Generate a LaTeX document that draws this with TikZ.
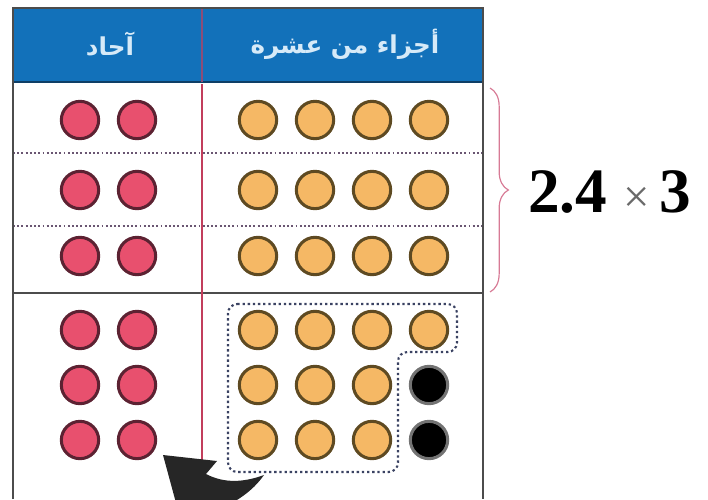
\documentclass[tikz,border=0pt]{standalone}
\usepackage{fontspec}
\usetikzlibrary{decorations.pathreplacing}
\TeXXeTstate=1
\newfontfamily\arabicfont[Script=Arabic]{DejaVu Sans}
\newfontfamily\numfont{Liberation Serif}
\definecolor{headblue}{HTML}{1271BA}
\definecolor{headline}{HTML}{0E3E66}
\definecolor{headtext}{HTML}{D6EAF8}
\definecolor{frameline}{HTML}{4C4C4C}
\definecolor{divider}{HTML}{C23E5C}
\definecolor{rowline}{HTML}{6A5672}
\definecolor{redfill}{HTML}{E8506E}
\definecolor{redring}{HTML}{5C2232}
\definecolor{orangefill}{HTML}{F5B865}
\definecolor{orangering}{HTML}{5E4A22}
\definecolor{groupline}{HTML}{3A4262}
\definecolor{bracecol}{HTML}{D77A95}
\definecolor{timesgray}{HTML}{6A6A6A}

\begin{document}
\begin{tikzpicture}[
  x=0.03cm,y=-0.03cm,
  frame/.style={draw=frameline,line width=2.4pt},
  rowsep/.style={draw=rowline,line width=1.6pt,dash pattern=on 1.6pt off 2pt},
  dot/.style={circle,inner sep=0pt,minimum size=1.12cm,line width=2.6pt},
  onesdot/.style={dot,draw=redring,fill=redfill},
  tenthdot/.style={dot,draw=orangering,fill=orangefill},
  blackdot/.style={dot,draw=black!55,fill=black},
  head/.style={font=\arabicfont\bfseries\fontsize{21}{24}\selectfont,text=headtext}
]
  \useasboundingbox (0,0) rectangle (708,499);

  % header band
  \fill[headblue] (13,8) rectangle (483,82);
  \draw[headline,line width=2.4pt] (13,82) -- (483,82);
  \draw[divider!70!headblue,line width=2.4pt] (202,8) -- (202,82);
  \node[head] (onesHead) at (110,44) {\beginR آحاد\endR};
  \node[head] (tenthsHead) at (345,44) {\beginR أجزاء من عشرة\endR};

  % rows
  \foreach \y in {153,226}
    \draw[rowsep] (13,\y) -- (483,\y);
  \draw[frame] (13,293) -- (483,293);
  \draw[divider,line width=2.4pt] (202,84) -- (202,499);
  \draw[frame] (13,499) -- (13,8) -- (483,8) -- (483,499);

  % upper rows: 2.4 three times
  \foreach \r/\y in {1/120,2/190,3/256}{
    \foreach \c/\x in {1/80,2/137}
      \node[onesdot] (one-\r-\c) at (\x,\y) {};
    \foreach \c/\x in {1/258,2/315,3/372,4/429}
      \node[tenthdot] (tenth-\r-\c) at (\x,\y) {};
  }

  % lower part: the sum
  \foreach \r/\y in {1/330,2/385,3/440}
    \foreach \c/\x in {1/80,2/137}
      \node[onesdot] (sum-\r-\c) at (\x,\y) {};
  \foreach \c/\x in {1/258,2/315,3/372,4/429}
    \node[tenthdot] (sumtenth-1-\c) at (\x,330) {};
  \foreach \r/\y in {2/385,3/440}{
    \foreach \c/\x in {1/258,2/315,3/372}
      \node[tenthdot] (sumtenth-\r-\c) at (\x,\y) {};
    \node[blackdot] (left-\r) at (429,\y) {};
  }
  \draw[groupline,line width=1.8pt,dash pattern=on 2pt off 2.4pt,rounded corners=8pt]
    (228,304) -- (457,304) -- (457,352) -- (398,352) -- (398,472)
    -- (228,472) -- cycle;

  % turn arrow
  \coordinate (turnTail) at (264,475);
  \coordinate (turnTip) at (182,525);
  \fill[black!85] (163,455) -- (217,461) -- (206,474)
    .. controls (225,484) and (245,482) .. (turnTail)
    .. controls (252,492) and (236,502) .. (214,512) -- (turnTip) -- cycle;

  % brace and product
  \draw[bracecol,line width=1pt,decorate,decoration={brace,amplitude=0.55cm}]
    (490,88) -- (490,292) coordinate[midway,xshift=0.6cm] (braceTip);
  \node[font=\numfont\fontsize{54}{60}\selectfont,anchor=west,inner sep=0pt]
    (product) at (528,192)
    {\textbf{2.4}\hspace{0.25em}{\color{timesgray}\fontsize{40}{44}\selectfont ×}\hspace{0.15em}\textbf{3}};
\end{tikzpicture}
\end{document}
